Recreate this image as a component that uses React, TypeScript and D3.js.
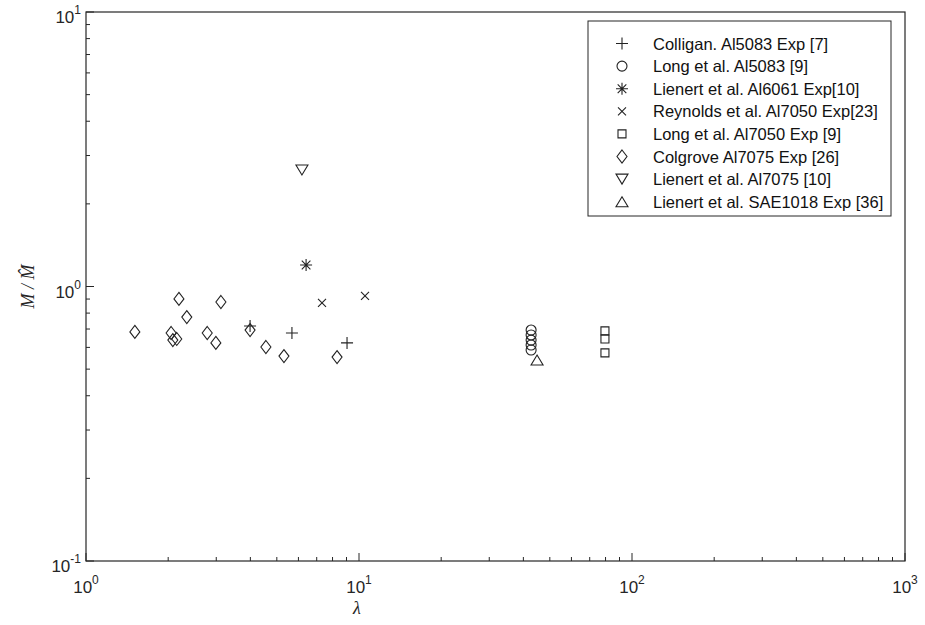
import React from "react";
import * as d3 from "d3";

// Non-dimensional tool slip ratio lambda vs. normalised torque M / M-hat
const colliganLambda = [3.99, 5.68, 9.04];
const colliganRatio = [0.718, 0.677, 0.623];

const long5083Lambda = [42.7, 42.7, 42.7, 42.7, 42.7];
const long5083Ratio = [0.694, 0.666, 0.638, 0.612, 0.587];

const lienert6061Lambda = [6.4];
const lienert6061Ratio = [1.198];

const reynoldsLambda = [7.32, 10.52];
const reynoldsRatio = [0.871, 0.924];

const long7050Lambda = [79.6, 79.6, 79.6];
const long7050Ratio = [0.689, 0.644, 0.573];

const colgroveLambda = [1.51, 2.05, 2.08, 2.15, 2.19, 2.34, 2.78, 2.99, 3.12, 3.99, 4.56, 5.31, 8.31];
const colgroveRatio = [0.683, 0.677, 0.638, 0.644, 0.901, 0.774, 0.677, 0.623, 0.878, 0.694, 0.602, 0.558, 0.553];

const lienert7075Lambda = [6.18];
const lienert7075Ratio = [2.657];

const lienertSaeLambda = [44.9];
const lienertSaeRatio = [0.54];

const seriesNames = [
  "Colligan. Al5083 Exp [7]",
  "Long et al. Al5083 [9]",
  "Lienert et al. Al6061 Exp[10]",
  "Reynolds et al. Al7050 Exp[23]",
  "Long et al. Al7050 Exp [9]",
  "Colgrove Al7075 Exp [26]",
  "Lienert et al. Al7075 [10]",
  "Lienert et al. SAE1018 Exp [36]",
];

const xTickExps = [0, 1, 2, 3];
const yTickExps = [1, 0, -1];

type MarkerKind = "plus" | "circle" | "star" | "x" | "square" | "diamond" | "tridown" | "triup";

const series: { kind: MarkerKind; xs: number[]; ys: number[] }[] = [
  { kind: "plus", xs: colliganLambda, ys: colliganRatio },
  { kind: "circle", xs: long5083Lambda, ys: long5083Ratio },
  { kind: "star", xs: lienert6061Lambda, ys: lienert6061Ratio },
  { kind: "x", xs: reynoldsLambda, ys: reynoldsRatio },
  { kind: "square", xs: long7050Lambda, ys: long7050Ratio },
  { kind: "diamond", xs: colgroveLambda, ys: colgroveRatio },
  { kind: "tridown", xs: lienert7075Lambda, ys: lienert7075Ratio },
  { kind: "triup", xs: lienertSaeLambda, ys: lienertSaeRatio },
];

const W = 925;
const H = 625;
const left = 86;
const right = 905;
const top = 12;
const bottom = 561;
const axisColor = "#262626";
const markColor = "#222";

const x = d3.scaleLog().domain([1, 1000]).range([left, right]);
const y = d3.scaleLog().domain([0.1, 10]).range([bottom, top]);

function markerPath(kind: MarkerKind, cx: number, cy: number): string {
  const p = d3.path();
  switch (kind) {
    case "plus": {
      const r = 6;
      p.moveTo(cx - r, cy); p.lineTo(cx + r, cy);
      p.moveTo(cx, cy - r); p.lineTo(cx, cy + r);
      break;
    }
    case "circle": {
      const r = 5;
      p.moveTo(cx + r, cy);
      p.arc(cx, cy, r, 0, Math.PI * 2);
      break;
    }
    case "star": {
      const r = 6;
      const d = r * 0.72;
      p.moveTo(cx - r, cy); p.lineTo(cx + r, cy);
      p.moveTo(cx, cy - r); p.lineTo(cx, cy + r);
      p.moveTo(cx - d, cy - d); p.lineTo(cx + d, cy + d);
      p.moveTo(cx - d, cy + d); p.lineTo(cx + d, cy - d);
      break;
    }
    case "x": {
      const r = 4;
      p.moveTo(cx - r, cy - r); p.lineTo(cx + r, cy + r);
      p.moveTo(cx - r, cy + r); p.lineTo(cx + r, cy - r);
      break;
    }
    case "square": {
      const r = 4;
      p.rect(cx - r, cy - r, 2 * r, 2 * r);
      break;
    }
    case "diamond": {
      const rw = 5, rh = 6.5;
      p.moveTo(cx, cy - rh); p.lineTo(cx + rw, cy); p.lineTo(cx, cy + rh); p.lineTo(cx - rw, cy); p.closePath();
      break;
    }
    case "tridown": {
      const rw = 6, rh = 5;
      p.moveTo(cx - rw, cy - rh); p.lineTo(cx + rw, cy - rh); p.lineTo(cx, cy + rh); p.closePath();
      break;
    }
    case "triup": {
      const rw = 6, rh = 5;
      p.moveTo(cx - rw, cy + rh); p.lineTo(cx + rw, cy + rh); p.lineTo(cx, cy - rh); p.closePath();
      break;
    }
  }
  return p.toString();
}

function PowerLabel({ exp, ...rest }: { exp: number } & React.SVGProps<SVGTextElement>) {
  return (
    <text {...rest}>
      10<tspan dy={-9} fontSize={12}>{exp}</tspan>
    </text>
  );
}

export default function App() {
  const minorX: number[] = [];
  for (let e = 0; e < 3; e++) for (let k = 2; k <= 9; k++) minorX.push(k * Math.pow(10, e));
  const minorY: number[] = [];
  for (let e = -1; e < 1; e++) for (let k = 2; k <= 9; k++) minorY.push(k * Math.pow(10, e));

  const legendX = 588;
  const legendY = 21;
  const legendW = 303;
  const legendH = 195;
  const rowY0 = 43.5;
  const rowStep = 22.6;

  return (
    <svg
      width={W}
      height={H}
      style={{ position: "absolute", left: 0, top: 0, background: "#fff" }}
      fontFamily="'Liberation Sans', Arial, sans-serif"
    >
      <rect x={0} y={0} width={W} height={H} fill="#fff" />

      {/* ticks, inward, left and bottom only */}
      <g stroke={axisColor} strokeWidth={1}>
        {xTickExps.map((e) => (
          <line key={"xM" + e} x1={x(Math.pow(10, e))} x2={x(Math.pow(10, e))} y1={bottom} y2={bottom - 8} />
        ))}
        {minorX.map((v) => (
          <line key={"xm" + v} x1={x(v)} x2={x(v)} y1={bottom} y2={bottom - 4} />
        ))}
        {yTickExps.map((e) => (
          <line key={"yM" + e} x1={left} x2={left + 8} y1={y(Math.pow(10, e))} y2={y(Math.pow(10, e))} />
        ))}
        {minorY.map((v) => (
          <line key={"ym" + v} x1={left} x2={left + 4} y1={y(v)} y2={y(v)} />
        ))}
      </g>

      {/* axes box */}
      <rect x={left} y={top} width={right - left} height={bottom - top} fill="none" stroke={axisColor} strokeWidth={1.2} />

      {/* tick labels */}
      <g fill={axisColor} fontSize={17}>
        {xTickExps.map((e) => (
          <PowerLabel key={"xl" + e} exp={e} x={x(Math.pow(10, e))} y={bottom + 32} textAnchor="middle" />
        ))}
        {yTickExps.map((e) => (
          <PowerLabel key={"yl" + e} exp={e} x={left - 5} y={y(Math.pow(10, e)) + 11} textAnchor="end" />
        ))}
      </g>

      {/* axis titles */}
      <text
        x={357}
        y={614}
        textAnchor="middle"
        fontFamily="'Liberation Serif', 'DejaVu Serif', serif"
        fontStyle="italic"
        fontSize={18}
        fill={axisColor}
      >
        λ
      </text>
      <text
        transform={`translate(34, ${y(1)}) rotate(-90)`}
        textAnchor="middle"
        fontFamily="'Liberation Serif', 'DejaVu Serif', serif"
        fontStyle="italic"
        fontSize={18}
        fill={axisColor}
      >
        M / M̂
      </text>

      {/* data markers */}
      <g fill="none" stroke={markColor} strokeWidth={1.1}>
        {series.map((s, si) =>
          s.xs.map((xv, i) => <path key={si + "-" + i} d={markerPath(s.kind, x(xv), y(s.ys[i]))} />)
        )}
      </g>

      {/* legend */}
      <rect x={legendX} y={legendY} width={legendW} height={legendH} fill="#fff" stroke={axisColor} strokeWidth={1} />
      {series.map((s, i) => {
        const ry = legendY + (rowY0 - legendY) + i * rowStep;
        return (
          <g key={"lg" + i}>
            <path d={markerPath(s.kind, 622, ry)} fill="none" stroke={markColor} strokeWidth={1.1} />
            <text x={653} y={ry + 6} fontSize={16.5} fill="#111">
              {seriesNames[i]}
            </text>
          </g>
        );
      })}
    </svg>
  );
}
